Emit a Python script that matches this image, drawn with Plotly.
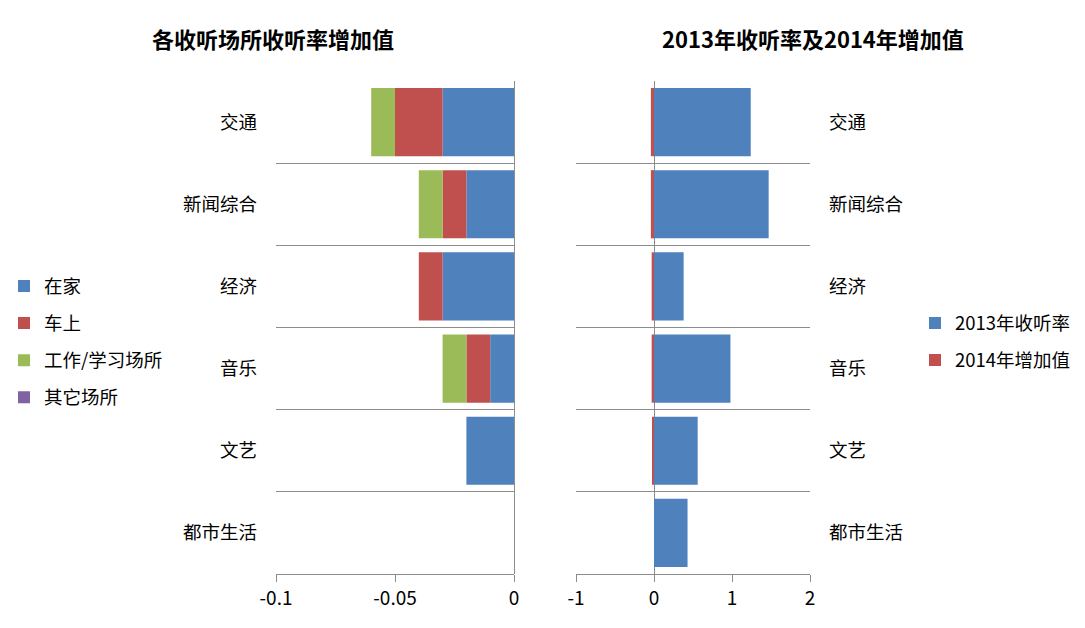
import plotly.graph_objects as go

categories = ["交通", "新闻综合", "经济", "音乐", "文艺", "都市生活"]
home = [-0.03, -0.02, -0.03, -0.01, -0.02, 0]
car = [-0.02, -0.01, -0.01, -0.01, 0, 0]
work = [-0.01, -0.01, 0, -0.01, 0, 0]
other = [0, 0, 0, 0, 0, 0]
rate2013 = [1.24, 1.47, 0.38, 0.98, 0.56, 0.43]
inc2014 = [-0.04, -0.04, -0.03, -0.03, -0.02, 0]

left_ticks = ["-0.1", "-0.05", "0"]
right_ticks = ["-1", "0", "1", "2"]

left_names = ["在家", "车上", "工作/学习场所", "其它场所"]
right_names = ["2013年收听率", "2014年增加值"]
colors = ["#4F81BD", "#C0504D", "#9BBB59", "#8064A2"]

FONT = "Noto Sans CJK SC, Microsoft YaHei, sans-serif"
GRID = "#8C8C8C"

fig = go.Figure()
for name, vals, col in zip(left_names, [home, car, work, other], colors):
    fig.add_trace(go.Bar(y=categories, x=vals, orientation="h", name=name,
                         marker=dict(color=col, line=dict(width=0)),
                         xaxis="x", yaxis="y", legend="legend", legendgroup=name))
for name, vals, col in zip(right_names, [rate2013, inc2014], colors[:2]):
    fig.add_trace(go.Bar(y=categories, x=vals, orientation="h", name=name,
                         marker=dict(color=col, line=dict(width=0)),
                         xaxis="x2", yaxis="y2", legend="legend2", legendgroup=name))

xcommon = dict(showline=True, linecolor=GRID, linewidth=1, ticks="outside", ticklen=7,
               tickcolor=GRID, showgrid=False, zeroline=True, zerolinecolor=GRID,
               zerolinewidth=1, automargin=False,
               tickfont=dict(size=19, color="black", family=FONT))
ycommon = dict(tickson="boundaries", showgrid=True, gridcolor=GRID, gridwidth=1,
               showline=False, ticks="", autorange="reversed", zeroline=False,
               automargin=False,
               tickfont=dict(size=18.5, color="black", family=FONT), ticklabelstandoff=18)

fig.update_layout(
    width=1085, height=628,
    margin=dict(l=0, r=0, t=0, b=0, autoexpand=False),
    paper_bgcolor="white", plot_bgcolor="white",
    barmode="relative", bargap=0.17,
    font=dict(family=FONT, color="black"),
    xaxis=dict(domain=[276/1085, 514/1085], range=[-0.1, 0], tickvals=[-0.1, -0.05, 0],
               ticktext=left_ticks, anchor="y", **xcommon),
    yaxis=dict(domain=[1-574/628, 1-81/628], anchor="x", side="left", **ycommon),
    xaxis2=dict(domain=[576/1085, 810/1085], range=[-1, 2], tickvals=[-1, 0, 1, 2],
                ticktext=right_ticks, anchor="y2", **xcommon),
    yaxis2=dict(domain=[1-574/628, 1-81/628], anchor="x2", side="right", **ycommon),
    legend=dict(x=4/1085, xanchor="left", y=1-342/628, yanchor="middle",
                font=dict(size=18.5, family=FONT, color="black"), tracegroupgap=10,
                bgcolor="rgba(0,0,0,0)"),
    legend2=dict(x=915/1085, xanchor="left", y=1-342/628, yanchor="middle",
                 font=dict(size=18.5, family=FONT, color="black"), tracegroupgap=10,
                 bgcolor="rgba(0,0,0,0)"),
    annotations=[
        dict(text="<b>各收听场所收听率增加值</b>", x=273/1085, y=1-38/628, xref="paper",
             yref="paper", xanchor="center", yanchor="middle", showarrow=False,
             font=dict(size=22, family=FONT, color="black")),
        dict(text="<b>2013年收听率及2014年增加值</b>", x=813/1085, y=1-38/628, xref="paper",
             yref="paper", xanchor="center", yanchor="middle", showarrow=False,
             font=dict(size=22, family=FONT, color="black")),
    ],
)

fig.write_html("out.html")
